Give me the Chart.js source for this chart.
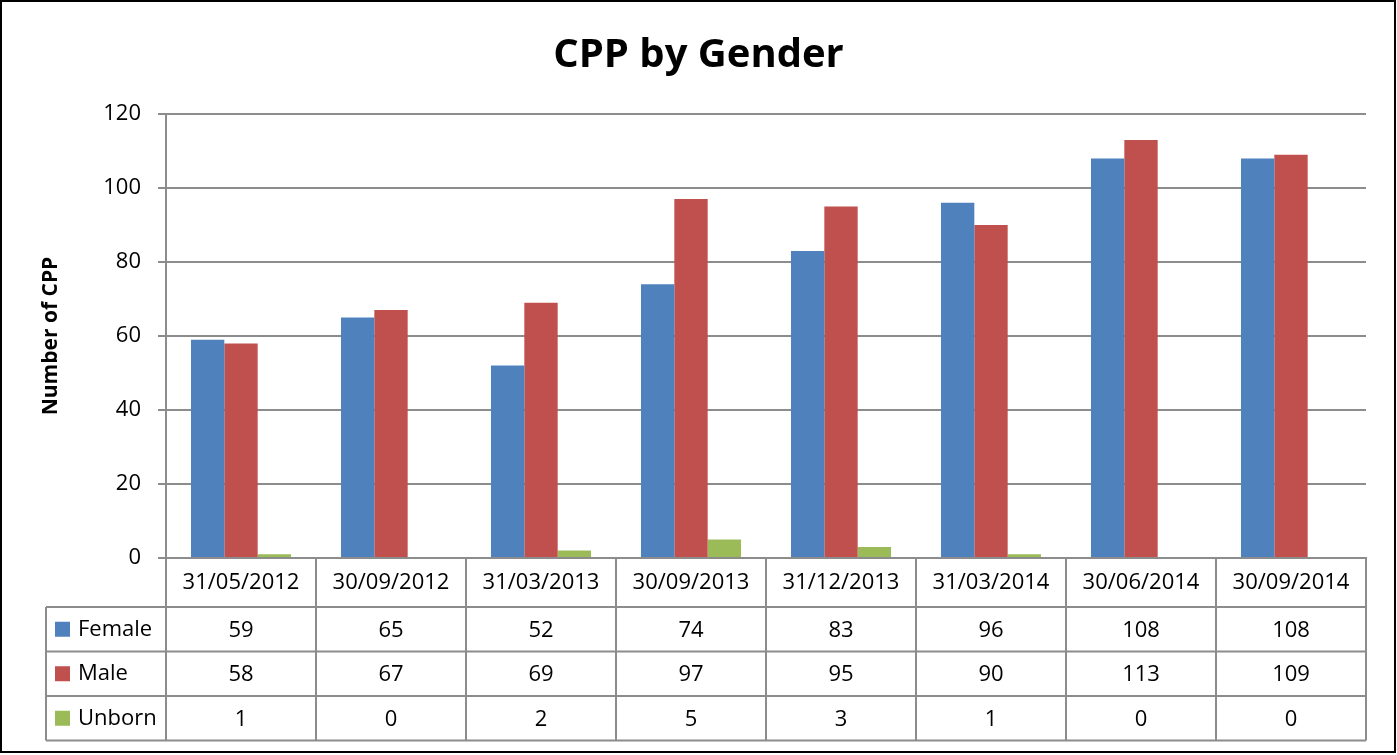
<!DOCTYPE html>
<html>
<head>
<meta charset="utf-8">
<script src="https://cdn.jsdelivr.net/npm/chart.js@4.4.1/dist/chart.umd.min.js"></script>
<style>
  html, body { margin: 0; padding: 0; background: #fff; }
  #wrap { width: 1397px; height: 755px; position: relative; }
</style>
</head>
<body>
<div id="wrap"><canvas id="cpp-chart"></canvas></div>
<script>
const dates = ['31/05/2012', '30/09/2012', '31/03/2013', '30/09/2013', '31/12/2013', '31/03/2014', '30/06/2014', '30/09/2014'];
const female = [59, 65, 52, 74, 83, 96, 108, 108];
const male = [58, 67, 69, 97, 95, 90, 113, 109];
const unborn = [1, 0, 2, 5, 3, 1, 0, 0];
const yTicks = [0, 20, 40, 60, 80, 100, 120];

const FONT = "'Open Sans', 'DejaVu Sans', sans-serif";
const GRID = '#8c8c8c';

// data table under the plot, columns lined up with the x scale
const dataTable = {
  id: 'dataTable',
  afterDraw(chart) {
    const ctx = chart.ctx;
    const x = chart.scales.x;
    const area = chart.chartArea;
    const colW = x.width / dates.length;
    const headTop = area.bottom;
    const headBottom = 607;
    const rowH = 44.5;
    const leftEdge = 46;

    ctx.save();
    ctx.strokeStyle = GRID;
    ctx.lineWidth = 2;
    ctx.fillStyle = '#000';
    ctx.font = '22px ' + FONT;
    ctx.textBaseline = 'middle';

    // header row
    ctx.textAlign = 'center';
    dates.forEach((d, i) => {
      ctx.fillText(d, x.getPixelForValue(i), (headTop + headBottom) / 2);
    });

    const rows = chart.data.datasets;
    const bottom = headBottom + rowH * rows.length;

    // lines
    ctx.beginPath();
    for (let i = 0; i <= dates.length; i++) {
      const px = area.left + colW * i;
      ctx.moveTo(px, headTop);
      ctx.lineTo(px, bottom);
    }
    ctx.moveTo(leftEdge, headBottom);
    ctx.lineTo(leftEdge, bottom);
    for (let r = 0; r <= rows.length; r++) {
      const py = headBottom + rowH * r;
      ctx.moveTo(leftEdge, py);
      ctx.lineTo(area.right, py);
    }
    ctx.moveTo(area.left, headTop);
    ctx.lineTo(area.right, headTop);
    ctx.stroke();

    rows.forEach((ds, r) => {
      const cy = headBottom + rowH * r + rowH / 2;
      ctx.fillStyle = ds.backgroundColor;
      ctx.fillRect(55, cy - 7.5, 15, 15);
      ctx.fillStyle = '#000';
      ctx.textAlign = 'left';
      ctx.fillText(ds.label, 78, cy);
      ctx.textAlign = 'center';
      ds.data.forEach((v, i) => {
        ctx.fillText(String(v), x.getPixelForValue(i), cy + 1);
      });
    });

    // outer frame
    ctx.strokeStyle = '#000';
    ctx.lineWidth = 2;
    ctx.strokeRect(1, 1, 1394, 751);
    ctx.restore();
  }
};

new Chart(document.getElementById('cpp-chart'), {
  type: 'bar',
  data: {
    labels: dates,
    datasets: [
      { label: 'Female', data: female, backgroundColor: '#4f81bd' },
      { label: 'Male', data: male, backgroundColor: '#c0504d' },
      { label: 'Unborn', data: unborn, backgroundColor: '#9bbb59' }
    ]
  },
  options: {
    responsive: true,
    maintainAspectRatio: false,
    animation: false,
    layout: { padding: { left: 31, right: 31, top: 0, bottom: 197 } },
    datasets: {
      bar: { categoryPercentage: 0.667, barPercentage: 1.0 }
    },
    plugins: {
      legend: { display: false },
      tooltip: { enabled: false },
      title: {
        display: true,
        text: 'CPP by Gender',
        color: '#000',
        font: { family: FONT, size: 40, weight: 'bold', lineHeight: 1.2 },
        padding: { top: 32, bottom: 34 }
      }
    },
    scales: {
      x: {
        ticks: { display: false },
        grid: { display: false },
        border: { display: true, color: GRID, width: 2 },
        afterFit(scale) { scale.height = 0; }
      },
      y: {
        min: 0,
        max: 120,
        afterBuildTicks(scale) { scale.ticks = yTicks.map(v => ({ value: v })); },
        ticks: {
          color: '#000',
          padding: 17,
          font: { family: FONT, size: 22 }
        },
        grid: { color: GRID, lineWidth: 2, tickLength: 8 },
        border: { display: true, color: GRID, width: 2 },
        title: {
          display: true,
          text: 'Number of CPP',
          color: '#000',
          font: { family: FONT, size: 21, weight: 'bold', lineHeight: 1.2 },
          padding: { top: 7, bottom: 0 }
        },
        afterFit(scale) { scale.width = 135; }
      }
    }
  },
  plugins: [dataTable]
});
</script>
</body>
</html>
